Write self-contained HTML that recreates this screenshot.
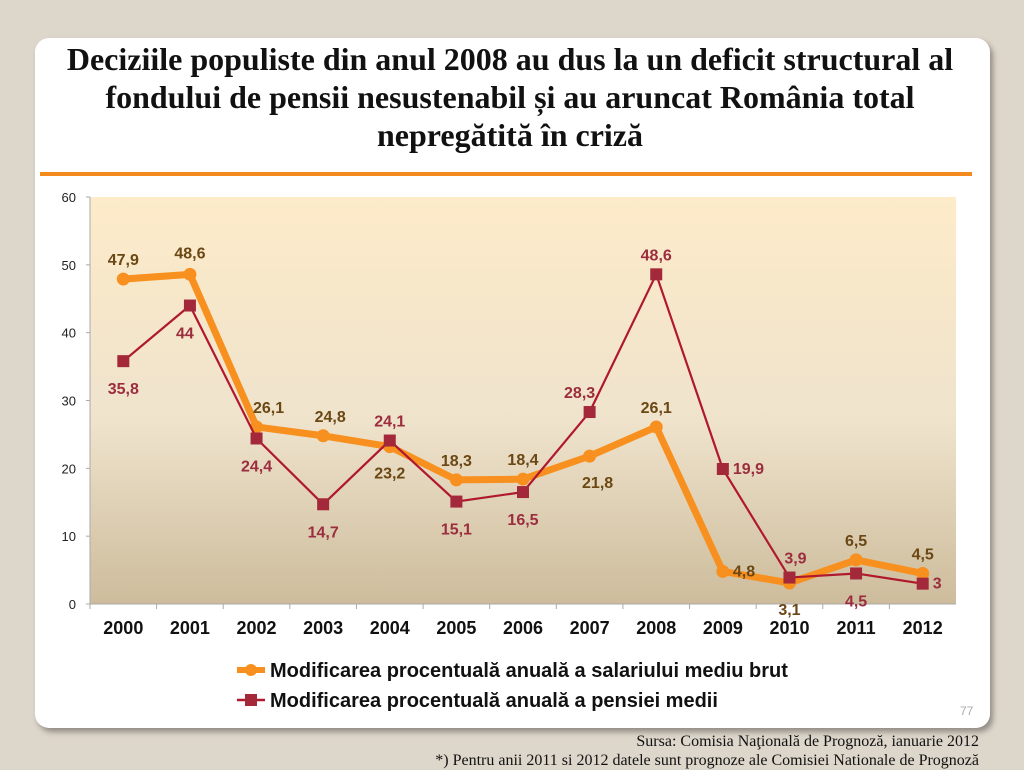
<!DOCTYPE html>
<html><head><meta charset="utf-8"><style>
body{margin:0;width:1024px;height:768px;background:#ddd6cb;position:relative;overflow:hidden;font-family:"Liberation Sans",sans-serif}
#card{position:absolute;left:35px;top:38px;width:955px;height:690px;background:#fff;border-radius:14px;box-shadow:3px 4px 6px rgba(0,0,0,.35)}
#title{position:absolute;left:47px;top:40px;width:926px;text-align:center;font-family:"Liberation Serif",serif;font-weight:bold;font-size:32px;line-height:38px;color:#111}
#rule{position:absolute;left:40px;top:172px;width:932px;height:4px;background:#f28a1e}
.src{position:absolute;right:45px;font-family:"Liberation Serif",serif;font-size:16px;color:#111}
</style></head><body>
<div id="card"></div>
<div id="title">Deciziile populiste din anul 2008 au dus la un deficit structural al fondului de pensii nesustenabil și au aruncat România total nepregătită în criză</div>
<div id="rule"></div>
<svg id="chart" width="1024" height="768" style="position:absolute;left:0;top:0">
<defs><linearGradient id="bg" x1="0" y1="0" x2="0" y2="1"><stop offset="0" stop-color="#fdebc9"/><stop offset="0.55" stop-color="#efe3cc"/><stop offset="1" stop-color="#cdbc9c"/></linearGradient></defs>
</svg>
<div class="src" style="top:733px">Sursa: Comisia Naţională de Prognoză,  ianuarie 2012</div>
<div class="src" style="top:752px">*) Pentru anii 2011 si 2012 datele sunt prognoze ale Comisiei Nationale de Prognoză</div>
<div style="position:absolute;left:960px;top:704px;font-size:12px;color:#aaa">77</div>
<script>
const categories=["2000","2001","2002","2003","2004","2005","2006","2007","2008","2009","2010","2011","2012"];
const salary=[47.9,48.6,26.1,24.8,23.2,18.3,18.4,21.8,26.1,4.8,3.1,6.5,4.5];
const pension=[35.8,44,24.4,14.7,24.1,15.1,16.5,28.3,48.6,19.9,3.9,4.5,3];
const yTicks=[0,10,20,30,40,50,60];
// label placement (layout, not data)
const salPos=[[0,-19],[0,-21],[12,-19],[7,-19],[0,27],[0,-19],[0,-19],[8,27],[0,-19],[20,0],[0,27],[0,-19],[0,-19]];
const penPos=[[0,28],[-5,28],[0,28],[0,28],[0,-19],[0,28],[0,28],[-10,-19],[0,-19],[28,0],[6,-19],[0,28],[20,0]];
const NS="http://www.w3.org/2000/svg",svg=document.getElementById('chart');
const L=90,R=956,T=197,B=604,ymax=60;
const x=i=>L+(R-L)/categories.length*(i+0.5);
const y=v=>B-(B-T)*v/ymax;
function mk(t,a){const e=document.createElementNS(NS,t);for(const k in a)e.setAttribute(k,a[k]);svg.appendChild(e);return e;}
const bg=mk('rect',{x:L,y:T,width:R-L,height:B-T,fill:'url(#bg)'});


mk('line',{x1:L,y1:T,x2:L,y2:B,stroke:'#aaa'});
mk('line',{x1:L,y1:B,x2:R,y2:B,stroke:'#aaa'});
yTicks.forEach(v=>{
 mk('line',{x1:L-4,y1:y(v),x2:L,y2:y(v),stroke:'#aaa'});
 const t=mk('text',{x:L-14,y:y(v)+5,'text-anchor':'end','font-size':13,fill:'#222'});t.textContent=v;
 
 
});
categories.forEach((c,i)=>{
 const xt=L+(R-L)/categories.length*i;
 mk('line',{x1:xt,y1:B,x2:xt,y2:B+5,stroke:'#aaa'});
 const t=mk('text',{x:x(i),y:B+30,'text-anchor':'middle','font-size':18,'font-weight':'bold',fill:'#111'});t.textContent=c;
 
 
});
const sl=mk('polyline',{points:salary.map((v,i)=>x(i)+','+y(v)).join(' '),fill:'none',stroke:'#f7901e','stroke-width':7,'stroke-linejoin':'round'});


salary.forEach((v,i)=>{const c=mk('circle',{cx:x(i),cy:y(v),r:6.5,fill:'#f7901e'});
 
 });
const pl=mk('polyline',{points:pension.map((v,i)=>x(i)+','+y(v)).join(' '),fill:'none',stroke:'#b0182e','stroke-width':2.2});


pension.forEach((v,i)=>{const r=mk('rect',{x:x(i)-6,y:y(v)-6,width:12,height:12,fill:'#a3283a'});
 
 });
const fmt=v=>String(v).replace('.',',');
salary.forEach((v,i)=>{const t=mk('text',{x:x(i)+salPos[i][0],y:y(v)+salPos[i][1]+5,'text-anchor':salPos[i][0]>15?'start':'middle','font-size':16,'font-weight':'bold',fill:'#6b4714'});
 if(salPos[i][0]>15)t.setAttribute('x',x(i)+10);
 t.textContent=fmt(v);
 
 });
pension.forEach((v,i)=>{const t=mk('text',{x:x(i)+penPos[i][0],y:y(v)+penPos[i][1]+5,'text-anchor':penPos[i][0]>15?'start':'middle','font-size':16,'font-weight':'bold',fill:'#9b2d3f'});
 if(penPos[i][0]>15)t.setAttribute('x',x(i)+10);
 t.textContent=fmt(v);
 
 });
// legend
mk('line',{x1:237,y1:670,x2:265,y2:670,stroke:'#f7901e','stroke-width':6});
mk('circle',{cx:251,cy:670,r:6,fill:'#f7901e'});
const l1=mk('text',{x:270,y:677,'font-size':20,'font-weight':'bold',fill:'#111'});l1.textContent='Modificarea procentuală anuală a salariului mediu brut';


mk('line',{x1:237,y1:700,x2:265,y2:700,stroke:'#b0182e','stroke-width':2.5});
mk('rect',{x:245,y:694,width:12,height:12,fill:'#a3283a'});
const l2=mk('text',{x:270,y:707,'font-size':20,'font-weight':'bold',fill:'#111'});l2.textContent='Modificarea procentuală anuală a pensiei medii';


</script>
</body></html>
